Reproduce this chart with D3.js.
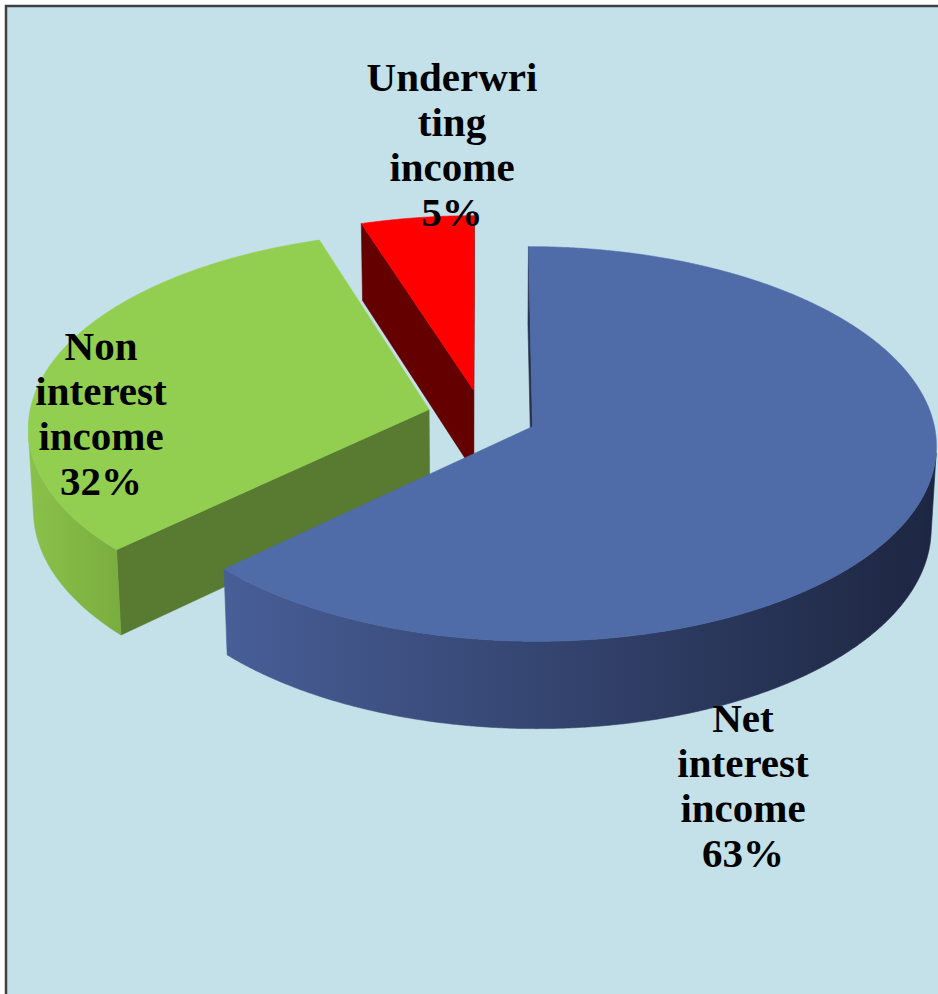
<!DOCTYPE html>
<html>
<head>
<meta charset="utf-8">
<script src="https://cdn.jsdelivr.net/npm/d3@7"></script>
<style>
  html, body { margin: 0; padding: 0; background: #ffffff; }
  svg { display: block; }
</style>
</head>
<body>
<svg id="chart" width="938" height="994"></svg>
<script>
// Income composition
const categories = ["Net interest income", "Non interest income", "Underwriting income"];
const values = [63, 32, 5];
const labelLines = [
  ["Net", "interest", "income"],
  ["Non", "interest", "income"],
  ["Underwri", "ting", "income"]
];

// Face colours per slice
const topColors = ["#4F6BA8", "#92CF50", "#FF0000"];
const cutColors = ["#28324F", "#587A31", "#640000"];
const wallColors = [["#485E97", "#1D2641"], ["#8AC14A", "#7AAD3F"], ["#B00000", "#800000"]];

// 3D view of the pie (unit radius disc, tilted with mild perspective)
const view = {
  cx: 482, cy: 416, scale: 400,
  tilt: 29 * Math.PI / 180, persp: 0.1,
  depth: 0.237, explode: 0.137
};
// first-line baseline of each data label
const labelAnchors = [[743, 732], [101, 360], [452, 91]];
const lineStep = 45;

const svg = d3.select("#chart");
const defs = svg.append("defs");

svg.append("rect")
  .attr("x", 6).attr("y", 6).attr("width", 1000).attr("height", 1100)
  .attr("fill", "#C4E0E8")
  .attr("stroke", "#404040").attr("stroke-width", 2.5);

const st = Math.sin(view.tilt), ct = Math.cos(view.tilt);
const camDist = 1 / view.persp;
const cam = [0, -camDist * ct, camDist * st];

function project(X, Y, Z) {
  const yv = Y * st + Z * ct;
  const dist = 1 + view.persp * (Y * ct - Z * st);
  return [view.cx + view.scale * X / dist, view.cy - view.scale * yv / dist];
}

const line = d3.line();
const pie = d3.pie().sort(null).startAngle(0).endAngle(2 * Math.PI).value(d => d);
const arcs = pie(values).map((a, i) => {
  const mid = (a.startAngle + a.endAngle) / 2;
  return {
    i, a0: a.startAngle, a1: a.endAngle,
    ox: view.explode * Math.sin(mid),
    oy: view.explode * Math.cos(mid)
  };
});

const h = view.depth;
const step = Math.PI / 720;

function rim(s, a, z) { return project(s.ox + Math.sin(a), s.oy + Math.cos(a), z); }

function sampleAngles(a0, a1) {
  const n = Math.max(2, Math.ceil((a1 - a0) / step));
  return d3.range(n + 1).map(k => a0 + (a1 - a0) * k / n);
}

function faces(s) {
  const out = [];
  // cut faces at the start and end edges
  [[s.a0, [-Math.cos(s.a0), Math.sin(s.a0)]], [s.a1, [Math.cos(s.a1), -Math.sin(s.a1)]]].forEach(([a, n]) => {
    const vis = n[0] * (cam[0] - s.ox) + n[1] * (cam[1] - s.oy) > 0;
    if (!vis) return;
    const pts = [project(s.ox, s.oy, 0), rim(s, a, 0), rim(s, a, -h), project(s.ox, s.oy, -h)];
    out.push({ type: "cut", d: line(pts) + "Z" });
  });
  // outer wall, only the runs facing the camera
  const angs = sampleAngles(s.a0, s.a1);
  let run = [];
  const runs = [];
  angs.forEach(a => {
    const nx = Math.sin(a), ny = Math.cos(a);
    const px = s.ox + nx, py = s.oy + ny;
    const vis = nx * (cam[0] - px) + ny * (cam[1] - py) > 0;
    if (vis) run.push(a);
    else if (run.length) { runs.push(run); run = []; }
  });
  if (run.length) runs.push(run);
  runs.forEach(r => {
    if (r.length < 2) return;
    const topPts = r.map(a => rim(s, a, 0));
    const botPts = r.slice().reverse().map(a => rim(s, a, -h));
    const pts = topPts.concat(botPts);
    out.push({ type: "wall", d: line(pts) + "Z", x0: d3.min(pts, p => p[0]), x1: d3.max(pts, p => p[0]) });
  });
  // top face
  const topPts = [project(s.ox, s.oy, 0)].concat(angs.map(a => rim(s, a, 0)));
  out.push({ type: "top", d: line(topPts) + "Z" });
  return out;
}

const gPie = svg.append("g");
arcs.slice().sort((a, b) => b.oy - a.oy).forEach(s => {
  const g = gPie.append("g").attr("class", "slice").attr("data-name", categories[s.i]);
  faces(s).forEach((f, k) => {
    let fill;
    if (f.type === "top") fill = topColors[s.i];
    else if (f.type === "cut") fill = cutColors[s.i];
    else {
      const id = `wall-${s.i}-${k}`;
      const grad = defs.append("linearGradient").attr("id", id)
        .attr("gradientUnits", "userSpaceOnUse")
        .attr("x1", f.x0).attr("x2", f.x1).attr("y1", 0).attr("y2", 0);
      grad.append("stop").attr("offset", 0).attr("stop-color", wallColors[s.i][0]);
      grad.append("stop").attr("offset", 1).attr("stop-color", wallColors[s.i][1]);
      fill = `url(#${id})`;
    }
    g.append("path").attr("d", f.d).attr("fill", fill)
      .attr("stroke", fill).attr("stroke-width", 0.6).attr("stroke-linejoin", "round");
  });
});

// data labels
const total = d3.sum(values);
const gLab = svg.append("g")
  .attr("font-family", "'Liberation Serif', 'Times New Roman', serif")
  .attr("font-weight", "bold").attr("font-size", 41)
  .attr("fill", "#000").attr("text-anchor", "middle");
arcs.forEach(s => {
  const lines = labelLines[s.i].concat([`${Math.round(values[s.i] / total * 100)}%`]);
  const [x, y] = labelAnchors[s.i];
  const t = gLab.append("text").attr("x", x).attr("y", y);
  lines.forEach((ln, k) => {
    t.append("tspan").attr("x", x).attr("y", y + k * lineStep).text(ln);
  });
});
</script>
</body>
</html>
